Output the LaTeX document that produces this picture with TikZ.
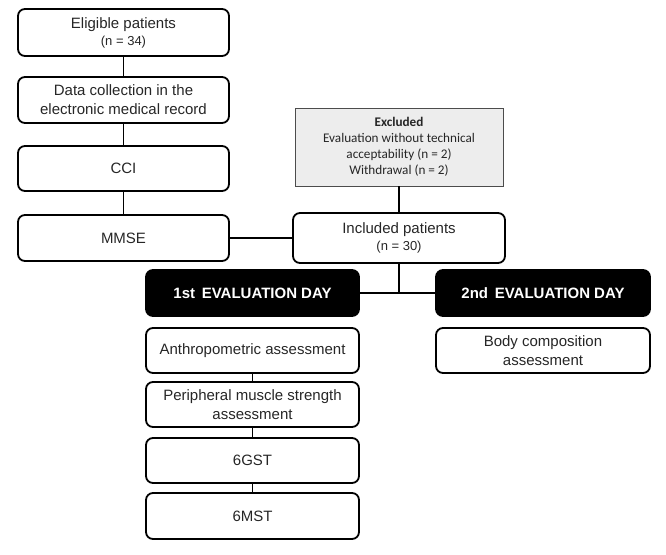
\documentclass[tikz,border=0pt]{standalone}
\usepackage{fontspec}
\setmainfont{Liberation Sans}
\newfontfamily\calib{Carlito}
\usepackage{tikz}
\usetikzlibrary{positioning}
\tikzstyle{line} = [line width=1.8pt]

\begin{document}
\begin{tikzpicture}[x=1pt, y=-1pt,
  box/.style={draw, line width=1.8pt, rounded corners=7pt, align=center, inner sep=0pt, text=black!85, font=\fontsize{15}{19}\selectfont},
  daybox/.style={box, fill=black, text=white, font=\fontsize{15}{19}\selectfont\bfseries},
  exclbox/.style={draw=black!70, line width=0.8pt, fill=black!7, align=center, inner sep=0pt, text=black!85, font=\calib\fontsize{13.2}{16}\selectfont}]
  \useasboundingbox (0,0) rectangle (666,554);

  % Left column
  \node[box, minimum width=211pt, minimum height=47pt] (elig) at (123.5,32.5) {Eligible patients\\[-2pt]{\fontsize{13}{15}\selectfont(n = 34)}};
  \node[box, minimum width=211pt, minimum height=46pt] (data) at (123.5,100) {Data collection in the\\electronic medical record};
  \node[box, minimum width=211pt, minimum height=45pt] (cci) at (123.5,168.5) {CCI};
  \node[box, minimum width=211pt, minimum height=46pt] (mmse) at (123.5,238) {MMSE};

  % Excluded and included
  \node[exclbox, minimum width=208pt, minimum height=78pt] (excl) at (399,147) {\textbf{Excluded}\\Evaluation without technical\\acceptability (n = 2)\\Withdrawal (n = 2)};
  \node[box, minimum width=212pt, minimum height=50pt] (incl) at (399,238) {Included patients\\[-2pt]{\fontsize{13}{15}\selectfont(n = 30)}};

  % Evaluation days
  \node[daybox, minimum width=213pt, minimum height=46pt] (day1) at (252.5,293) {1st\, EVALUATION DAY};
  \node[daybox, minimum width=214pt, minimum height=46pt] (day2) at (543,293) {2nd\, EVALUATION DAY};

  % Assessments
  \node[box, minimum width=213pt, minimum height=45pt] (anthro) at (252.5,350.5) {Anthropometric assessment};
  \node[box, minimum width=213pt, minimum height=45pt] (periph) at (252.5,404.5) {Peripheral muscle strength\\assessment};
  \node[box, minimum width=213pt, minimum height=45pt] (gst) at (252.5,460.5) {6GST};
  \node[box, minimum width=213pt, minimum height=46pt] (mst) at (252.5,516) {6MST};
  \node[box, minimum width=214pt, minimum height=45pt] (body) at (543,350.5) {Body composition\\assessment};

  % Connectors
  \draw[line] (elig) -- (data);
  \draw[line] (data) -- (cci);
  \draw[line] (cci) -- (mmse);
  \draw[line] (mmse) -- (incl);
  \draw[line] (excl) -- (incl);
  \draw[line] (incl) -- (incl |- day1);
  \draw[line] (day1) -- (day2);
  \draw[line] (anthro) -- (periph);
  \draw[line] (periph) -- (gst);
  \draw[line] (gst) -- (mst);
\end{tikzpicture}
\end{document}
